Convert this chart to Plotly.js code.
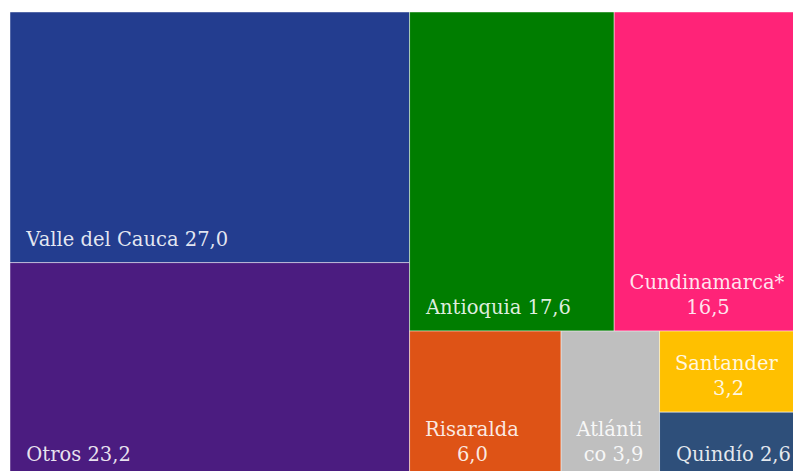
<!DOCTYPE html>
<html>
<head>
<meta charset="utf-8">
<script src="https://cdn.plot.ly/plotly-3.0.1.min.js"></script>
<style>
  html, body { margin: 0; padding: 0; background: #ffffff; overflow: hidden; }
  #chart { width: 806px; height: 478px; }
</style>
</head>
<body>
<div id="chart"></div>
<script>
// Participación por departamento (%)
const labels = ['Valle del Cauca', 'Otros', 'Antioquia', 'Cundinamarca*', 'Risaralda', 'Atlántico', 'Santander', 'Quindío'];
const values = [27.0, 23.2, 17.6, 16.5, 6.0, 3.9, 3.2, 2.6];
const colors = ['#233d8f', '#4b1c80', '#007d00', '#ff2378', '#de5316', '#bfbfbf', '#ffc000', '#2e4f7a'];
// How each tile's name is broken across lines, and whether the value goes on its own line
const nameLines = [['Valle del Cauca'], ['Otros'], ['Antioquia'], ['Cundinamarca*'], ['Risaralda'], ['Atlánti', 'co'], ['Santander'], ['Quindío']];
const valueOnNewLine = [false, false, false, true, true, false, true, false];

const FONT_FAMILY = 'DejaVu Serif';
const FONT_SIZE = 19.5;
const LIFT_SIZE = 42;   // a large lowered blank that lifts the label off the tile's bottom edge

const ctx = document.createElement('canvas').getContext('2d');
const widthAt = (s, size) => { ctx.font = size + 'px "' + FONT_FAMILY + '"'; return ctx.measureText(s).width; };
const measure = s => widthAt(s, FONT_SIZE);
const nbspW = measure('\u00a0');
const pad = px => '\u00a0'.repeat(Math.max(0, Math.round(px / nbspW)));
const lift = '<sub><span style="font-size:' + LIFT_SIZE + 'px">\u00a0</span></sub>';
const INDENT_PX = widthAt('\u00a0', LIFT_SIZE);

// Lines are centred against each other; the whole block is indented from the tile's left edge
const texts = labels.map((lab, i) => {
  const lines = nameLines[i].slice();
  const v = values[i].toFixed(1).replace('.', ',');
  if (valueOnNewLine[i]) lines.push(v);
  else lines[lines.length - 1] += ' ' + v;
  const widths = lines.map(measure);
  const maxW = Math.max(...widths);
  const last = lines.length - 1;
  return lines.map((ln, k) => {
    const off = (maxW - widths[k]) / 2;
    return k === last ? lift + pad(off) + ln : pad(INDENT_PX + off) + ln;
  }).join('<br>');
});

const trace = {
  type: 'treemap',
  labels: labels,
  parents: labels.map(() => ''),
  values: values,
  text: texts,
  textinfo: 'text',
  textposition: 'bottom left',
  sort: true,
  tiling: { packing: 'squarify', squarifyratio: 1, pad: 0 },
  marker: {
    colors: colors,
    line: { color: 'rgba(255,255,255,0.45)', width: 1 },
    pad: { t: 0, l: 0, r: 0, b: 0 }
  },
  textfont: { family: FONT_FAMILY, size: FONT_SIZE, color: 'rgba(255,255,255,0.88)' },
  pathbar: { visible: false },
  hoverinfo: 'none'
};

const layout = {
  width: 806,
  height: 478,
  margin: { l: 10, r: 0, t: 12, b: 0 },
  paper_bgcolor: '#ffffff',
  showlegend: false
};

Plotly.newPlot('chart', [trace], layout, { staticPlot: true, displayModeBar: false });
</script>
</body>
</html>
